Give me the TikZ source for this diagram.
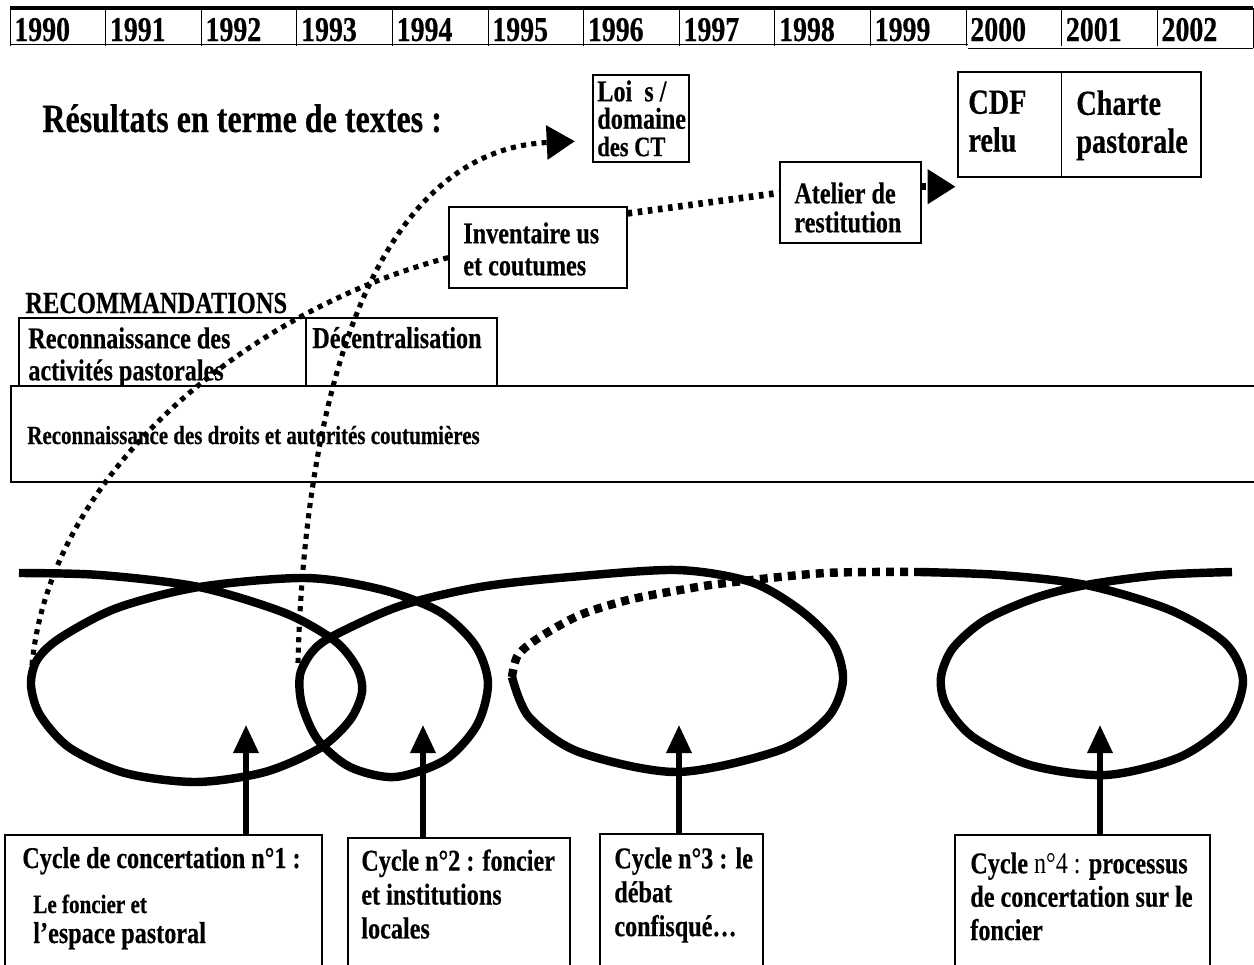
\documentclass[tikz,border=0pt]{standalone}
\usepackage{fontspec}
\setmainfont{Liberation Serif}[FakeStretch=0.8, BoldFeatures={FakeBold=0.4}]
\usetikzlibrary{arrows.meta,fit}

\begin{document}
\begin{tikzpicture}[x=0.02cm, y=-0.02cm,
    every node/.style={inner sep=0pt, font=\bfseries\fontsize{17.2}{18.2}\selectfont},
    frame/.style={draw, line width=0.7pt, inner sep=0pt},
    txt/.style={anchor=north west, align=left},
    loopline/.style={line width=4.8pt},
    dotA/.style={line width=2.9pt, dash pattern=on 2.9pt off 3pt},
    dotC/.style={line width=3.8pt, dash pattern=on 2.6pt off 3.2pt},
    dotL/.style={line width=4.8pt, dash pattern=on 4.5pt off 3.5pt},
    bigtip/.style={-{Triangle[length=16pt, width=19pt]}},
    uparrow/.style={line width=2.9pt, -{Triangle[length=16pt, width=14pt]}}]
    \useasboundingbox (0,0) rectangle (1254,964);

    % years
    \draw[line width=2pt] (10,8) -- (1253,8);
    \draw (10,44) -- (968,44);
    \draw (968,48) -- (1253,48);
    \foreach \yr [count=\i from 0] in {1990,...,2002} {
        \draw (10+95.6*\i,8) -- (10+95.6*\i,46);
        \node[anchor=base west, font=\bfseries\fontsize{19.8}{20}\selectfont] (y\yr) at (14+95.6*\i,41) {\yr};
    }
    \draw (1253,8) -- (1253,48);

    % texts
    \node[anchor=base west, font=\bfseries\fontsize{22.8}{22}\selectfont] (results) at (42,132) {Résultats en terme de textes :};
    \node[frame, fit={(593,75) (689,162)}] (loi) {};
    \node[txt, font=\bfseries\fontsize{17.2}{15.6}\selectfont] (loitxt) at (597,80) {Loi\ \ s /\\domaine\\{\fontsize{16}{15}\selectfont des CT}};
    \node[frame, fit={(449,207) (627,288)}] (inv) {};
    \node[txt] (invtxt) at (463,222) {Inventaire us\\et coutumes};
    \node[frame, fit={(780,162) (921,243)}] (atel) {};
    \node[txt, font=\bfseries\fontsize{17.2}{16.5}\selectfont] (ateltxt) at (794,182) {Atelier de\\restitution};
    \node[frame, fit={(958,72) (1201,177)}] (cdf) {};
    \draw (cdf.north -| 1061,0) -- (cdf.south -| 1061,0);
    \node[txt, font=\bfseries\fontsize{20.1}{21.6}\selectfont] (cdftxt) at (968,90) {CDF\\relu};
    \node[txt, font=\bfseries\fontsize{20.1}{21.6}\selectfont] (chtxt) at (1076,90) {Charte\\pastorale};

    % recommandations
    \node[anchor=base west, font=\bfseries\fontsize{17.4}{18}\selectfont] (reco) at (25,313) {RECOMMANDATIONS};
    \node[frame, fit={(19,318) (306,386)}] (rpast) {};
    \node[frame, fit={(306,318) (497,386)}] (rdec) {};
    \node[frame, fit={(11,386) (1262,482)}] (rdroits) {};
    \node[txt] (pasttxt) at (28,327) {Reconnaissance des\\activités pastorales};
    \node[anchor=base west] (dectxt) at (312,348) {Décentralisation};
    \node[anchor=base west, font=\bfseries\fontsize{14.9}{15}\selectfont] (droitstxt) at (27,444) {Reconnaissance des droits et autorités coutumières};

    % cycles
    \draw[loopline] plot[smooth, tension=0.5] coordinates {(19,573) (100,575) (199,587) (285,613) (335,641) (357,668) (362,692) (350,720) (320,748) (265,772) (196,782) (125,773) (70,748) (40,715) (31,685) (37,660) (60,638) (117,608) (199,587) (306,578) (383,590) (440,612) (475,645) (488,683) (477,725) (445,760) (395,777) (350,767) (318,740) (302,705) (300,675) (312,652) (333,636) (400,606) (480,587) (570,577) (677,570) (751,582) (800,610) (833,643) (843,680) (828,717) (780,750) (677,772) (579,752) (529,717) (512,677)};
    \draw[dotL] plot[smooth, tension=0.5] coordinates {(512,677) (518,655) (540,637) (580,615) (628,600) (680,590) (726,583) (825,573) (920,572)};
    \draw[loopline] plot[smooth, tension=0.5] coordinates {(920,572) (1000,575) (1086,585) (1170,610) (1225,643) (1243,680) (1228,722) (1180,757) (1106,775) (1030,765) (973,737) (946,705) (941,677) (953,648) (985,620) (1035,598) (1086,585) (1160,575) (1232,572)};

    \coordinate (l1) at (32,665);
    \coordinate (l2) at (298,663);
    \draw[dotA] (l1) .. controls (50,470) and (250,310) .. ([yshift=-5.7pt]inv.west);
    \draw[dotA, bigtip, shorten >=10pt] (l2) .. controls (305,380) and (380,150) .. ([yshift=-12.5pt]loi.west);
    \draw[dotC] ([yshift=-4pt]inv.north east) -- ([yshift=5.5pt]atel.west);
    \coordinate (atout) at ([yshift=9pt]atel.east);
    \draw[dotC, bigtip, shorten >=1pt] (atout) -- (atout -| cdf.west);

    % boxes below
    \node[frame, fit={(5,835) (322,968)}] (c1) {};
    \node[frame, fit={(348,838) (570,968)}] (c2) {};
    \node[frame, fit={(600,834) (763,968)}] (c3) {};
    \node[frame, fit={(955,835) (1210,968)}] (c4) {};
    \node[anchor=base west] (c1txt) at (22,868) {Cycle de concertation n°1 :};
    \node[anchor=base west, font=\bfseries\fontsize{15}{15}\selectfont] (c1sub) at (33,913) {Le foncier et};
    \node[anchor=base west] (c1sub2) at (33,943) {l’espace pastoral};
    \node[txt, font=\bfseries\fontsize{17.2}{19.3}\selectfont] (c2txt) at (361,849) {Cycle n°2 : foncier\\et institutions\\locales};
    \node[txt, font=\bfseries\fontsize{17.2}{19.3}\selectfont] (c3txt) at (614,847) {Cycle n°3 : le\\débat\\confisqué…};
    \node[txt, font=\bfseries\fontsize{17.2}{19}\selectfont] (c4txt) at (970,852) {Cycle {\mdseries n°4 :} processus\\de concertation sur le\\foncier};

    \coordinate (t1) at (246,725);
    \coordinate (t2) at (423,725);
    \coordinate (t3) at (679,725);
    \coordinate (t4) at (1100,725);
    \draw[uparrow] (t1 |- c1.north) -- (t1);
    \draw[uparrow] (t2 |- c2.north) -- (t2);
    \draw[uparrow] (t3 |- c3.north) -- (t3);
    \draw[uparrow] (t4 |- c4.north) -- (t4);
\end{tikzpicture}
\end{document}
